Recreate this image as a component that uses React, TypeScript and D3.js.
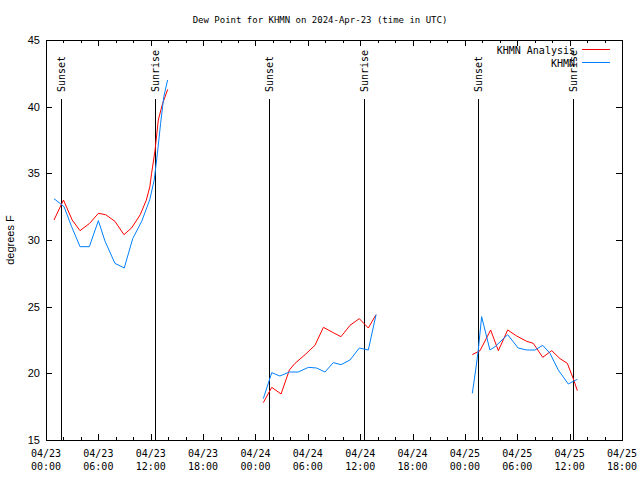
import React from "react";
import * as d3 from "d3";

const titleText = "Dew Point for KHMN on 2024-Apr-23 (time in UTC)";
const yLabelText = "degrees F";
const seriesNames = ["KHMN Analysis", "KHMN"];
const seriesColors = ["#ff0000", "#0080ff"];

const xDomain = ["2024-04-23T00:00", "2024-04-25T18:00"];
const yDomain = [15, 45];
const yTickValues = [15, 20, 25, 30, 35, 40, 45];

const sunLabels = ["Sunset", "Sunrise", "Sunset", "Sunrise", "Sunset", "Sunrise"];
const sunTimes = [
  "2024-04-23T01:41", "2024-04-23T12:31",
  "2024-04-24T01:35", "2024-04-24T12:26",
  "2024-04-25T01:32", "2024-04-25T12:25",
];

// KHMN Analysis (red); null marks a gap
const analysisTimes = [
  "2024-04-23T00:55", "2024-04-23T02:00", "2024-04-23T03:00", "2024-04-23T03:54", "2024-04-23T05:00",
  "2024-04-23T06:00", "2024-04-23T06:50", "2024-04-23T07:54", "2024-04-23T08:56", "2024-04-23T09:48",
  "2024-04-23T10:48", "2024-04-23T11:30", "2024-04-23T11:54", "2024-04-23T12:06", "2024-04-23T12:30",
  "2024-04-23T12:52", "2024-04-23T13:22", "2024-04-23T13:57",
  "2024-04-23T18:00",
  "2024-04-24T00:54", "2024-04-24T01:52", "2024-04-24T02:56", "2024-04-24T03:53", "2024-04-24T04:32",
  "2024-04-24T05:41", "2024-04-24T06:49", "2024-04-24T07:47", "2024-04-24T08:55", "2024-04-24T09:48",
  "2024-04-24T10:50", "2024-04-24T11:54", "2024-04-24T12:56", "2024-04-24T13:49",
  "2024-04-24T18:00",
  "2024-04-25T00:51", "2024-04-25T01:44", "2024-04-25T02:57", "2024-04-25T03:50", "2024-04-25T04:54",
  "2024-04-25T05:56", "2024-04-25T07:05", "2024-04-25T07:50", "2024-04-25T08:55", "2024-04-25T09:57",
  "2024-04-25T10:54", "2024-04-25T11:44", "2024-04-25T12:25", "2024-04-25T12:53",
];
const analysisValues = [
  31.5, 33.0, 31.5, 30.7, 31.25,
  32.0, 31.9, 31.4, 30.4, 30.9,
  31.9, 33.0, 34.0, 35.0, 36.75,
  39.0, 40.25, 41.3,
  null,
  17.8, 18.95, 18.45, 20.25, 20.75,
  21.4, 22.1, 23.45, 23.05, 22.75,
  23.6, 24.1, 23.4, 24.4,
  null,
  21.4, 21.7, 23.25, 21.7, 23.25,
  22.8, 22.4, 22.25, 21.2, 21.7,
  21.1, 20.75, 19.6, 18.7,
];

// KHMN observations (blue)
const obsTimes = [
  "2024-04-23T00:55", "2024-04-23T01:36", "2024-04-23T02:04", "2024-04-23T02:56", "2024-04-23T03:54",
  "2024-04-23T04:58", "2024-04-23T06:00", "2024-04-23T06:46", "2024-04-23T07:54", "2024-04-23T08:58",
  "2024-04-23T09:56", "2024-04-23T10:58", "2024-04-23T11:54", "2024-04-23T12:24", "2024-04-23T12:46",
  "2024-04-23T13:08", "2024-04-23T13:30", "2024-04-23T13:56",
  "2024-04-23T18:00",
  "2024-04-24T00:54", "2024-04-24T01:52", "2024-04-24T02:48", "2024-04-24T03:53", "2024-04-24T04:54",
  "2024-04-24T06:04", "2024-04-24T07:00", "2024-04-24T07:58", "2024-04-24T08:55", "2024-04-24T09:48",
  "2024-04-24T10:50", "2024-04-24T11:54", "2024-04-24T12:56", "2024-04-24T13:49",
  "2024-04-24T18:00",
  "2024-04-25T00:51", "2024-04-25T01:14", "2024-04-25T01:32", "2024-04-25T01:55", "2024-04-25T02:52",
  "2024-04-25T03:27", "2024-04-25T04:54", "2024-04-25T06:06", "2024-04-25T07:05", "2024-04-25T08:02",
  "2024-04-25T08:55", "2024-04-25T09:45", "2024-04-25T10:42", "2024-04-25T11:51", "2024-04-25T12:25",
  "2024-04-25T12:53",
];
const obsValues = [
  33.1, 32.75, 32.5, 31.0, 29.5,
  29.5, 31.45, 29.9, 28.25, 27.9,
  30.1, 31.4, 33.05, 34.5, 36.5,
  38.75, 40.75, 42.0,
  null,
  18.1, 20.05, 19.8, 20.1, 20.1,
  20.45, 20.4, 20.1, 20.8, 20.65,
  21.0, 21.9, 21.75, 24.4,
  null,
  18.5, 20.25, 21.75, 24.25, 21.75,
  22.0, 22.9, 21.9, 21.75, 21.75,
  22.1, 21.5, 20.25, 19.2, 19.4,
  19.55,
];

const parse = d3.utcParse("%Y-%m-%dT%H:%M");
const MONO = "'DejaVu Sans Mono', monospace";
const SANS = "'Liberation Sans', Arial, sans-serif";

export default function App() {
  const L = 46, R = 622, T = 40, B = 440;
  const x = d3.scaleUtc().domain(xDomain.map((s) => parse(s) as Date)).range([L, R]);
  const y = d3.scaleLinear().domain(yDomain).range([B, T]);

  const majorTicks = x.ticks(d3.utcHour.every(6) as d3.TimeInterval);
  const minorTicks = x.ticks(d3.utcHour.every(2) as d3.TimeInterval);
  const fmtDate = d3.utcFormat("%m/%d");
  const fmtTime = d3.utcFormat("%H:%M");

  const line = d3
    .line<{ t: Date; v: number | null }>()
    .defined((d) => d.v !== null)
    .x((d) => x(d.t))
    .y((d) => y(d.v as number));

  const series = [
    analysisTimes.map((t, i) => ({ t: parse(t) as Date, v: analysisValues[i] })),
    obsTimes.map((t, i) => ({ t: parse(t) as Date, v: obsValues[i] })),
  ];

  const px = (v: number) => Math.round(v) + 0.5;

  return (
    <svg
      width={640}
      height={480}
      style={{ position: "fixed", left: 0, top: 0, background: "#fff" }}
    >
      <rect x={0} y={0} width={640} height={480} fill="#fff" />
      <text x={320} y={23} textAnchor="middle" fontFamily={MONO} fontSize={9} fill="#000">
        {titleText}
      </text>

      {minorTicks.map((t, i) => (
        <g key={"mn" + i} stroke="#000" shapeRendering="crispEdges">
          <line x1={px(x(t))} x2={px(x(t))} y1={B} y2={B - 3} />
          <line x1={px(x(t))} x2={px(x(t))} y1={T} y2={T + 3} />
        </g>
      ))}
      {majorTicks.map((t, i) => (
        <g key={"mj" + i}>
          <line x1={px(x(t))} x2={px(x(t))} y1={B} y2={B - 6} stroke="#000" shapeRendering="crispEdges" />
          <line x1={px(x(t))} x2={px(x(t))} y1={T} y2={T + 6} stroke="#000" shapeRendering="crispEdges" />
          <text x={x(t)} y={457} textAnchor="middle" fontFamily={MONO} fontSize={10} fill="#000">
            {fmtDate(t)}
          </text>
          <text x={x(t)} y={470} textAnchor="middle" fontFamily={MONO} fontSize={10} fill="#000">
            {fmtTime(t)}
          </text>
        </g>
      ))}

      {yTickValues.map((v) => (
        <g key={"y" + v}>
          <line x1={L} x2={L + 6} y1={px(y(v))} y2={px(y(v))} stroke="#000" shapeRendering="crispEdges" />
          <line x1={R - 6} x2={R} y1={px(y(v))} y2={px(y(v))} stroke="#000" shapeRendering="crispEdges" />
          <text x={40} y={y(v) + 4} textAnchor="end" fontFamily={SANS} fontSize={11} fill="#000">
            {v}
          </text>
        </g>
      ))}

      <text
        transform={`translate(14,${(T + B) / 2}) rotate(-90)`}
        textAnchor="middle"
        fontFamily={SANS}
        fontSize={11}
        fill="#000"
      >
        {yLabelText}
      </text>

      {sunTimes.map((s, i) => {
        const xx = x(parse(s) as Date);
        return (
          <g key={"sun" + i}>
            <line x1={px(xx)} x2={px(xx)} y1={99} y2={B} stroke="#000" shapeRendering="crispEdges" />
            <text
              transform={`translate(${xx + 4},92) rotate(-90)`}
              textAnchor="start"
              fontFamily={MONO}
              fontSize={10}
              fill="#000"
            >
              {sunLabels[i]}
            </text>
          </g>
        );
      })}

      {series.map((d, i) => (
        <path key={"s" + i} d={line(d) || ""} fill="none" stroke={seriesColors[i]} strokeWidth={1} />
      ))}

      {seriesNames.map((n, i) => (
        <g key={"lg" + i}>
          <text x={575} y={54 + i * 13} textAnchor="end" fontFamily={MONO} fontSize={10} fill="#000">
            {n}
          </text>
          <line x1={582} x2={610} y1={49.5 + i * 13} y2={49.5 + i * 13} stroke={seriesColors[i]} />
        </g>
      ))}

      <rect x={L + 0.5} y={T + 0.5} width={R - L} height={B - T} fill="none" stroke="#000" shapeRendering="crispEdges" />
    </svg>
  );
}
